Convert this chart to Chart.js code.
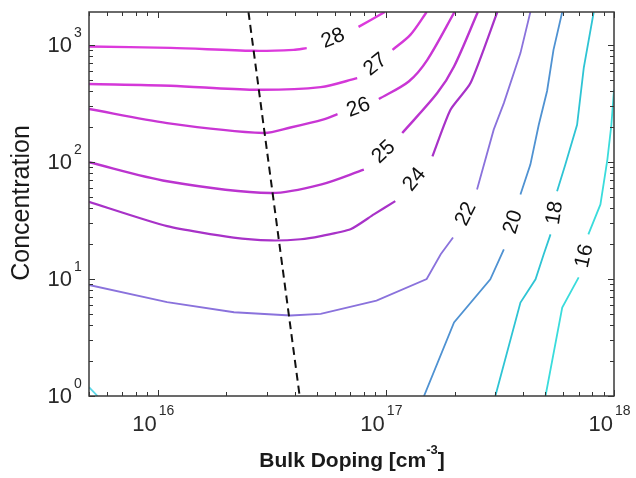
<!DOCTYPE html>
<html>
<head>
<meta charset="utf-8">
<script src="https://cdn.jsdelivr.net/npm/chart.js@4.4.0/dist/chart.umd.min.js"></script>
<style>
    body { margin: 0; background: #fff; }
</style>
</head>
<body>
<canvas id="myChart" width="636" height="478"></canvas>
<script>
// axis ranges and tick labels
const xMin = 5e15, xMax = 1e18;
const yMin = 1, yMax = 1900;
const xMajor = [1e16, 1e17, 1e18];
const xExp = ['16', '17', '18'];
const yMajor = [1, 10, 100, 1000];
const yExp = ['0', '1', '2', '3'];

// contour lines as [doping, concentration], "a" before the label gap, "b" after it
const c28a = [[5e15, 963], [1.14e16, 939], [2.63e16, 886], [3.94e16, 903], [4.5e16, 934]];
const c28b = [[7.59e16, 1418], [9.9e16, 1900]];
const c27a = [[5e15, 461], [1.14e16, 446], [2.63e16, 412], [5.18e16, 434], [7.49e16, 518]];
const c27b = [[1.07e17, 903], [1.28e17, 1212], [1.51e17, 1900]];
const c26a = [[5e15, 282], [1.1e16, 214], [2.91e16, 176], [3.82e16, 196], [5.34e16, 230], [6.14e16, 255]];
const c26b = [[9.32e16, 343], [1.26e17, 485], [1.52e17, 742], [2.0e17, 1900]];
const c25a = [[5e15, 99], [1.1e16, 68.2], [3.13e16, 54.1], [5.18e16, 63.9], [8.01e16, 85.8]];
const c25b = [[1.18e17, 176], [1.68e17, 386], [1.99e17, 651], [2.53e17, 1900]];
const c24a = [[5e15, 45.5], [1.1e16, 28.2], [2.15e16, 22.5], [3.13e16, 21.3], [4.23e16, 21.8],
              [5.18e16, 23.2], [7.0e16, 26.5], [8.86e16, 35.5], [1.1e17, 46.1]];
const c24b = [[1.6e17, 111], [1.92e17, 278], [2.35e17, 470], [3.08e17, 1900]];
const c22a = [[5e15, 8.87], [1.1e16, 6.32], [2.16e16, 5.19], [3.82e16, 4.87], [5.18e16, 5.02],
              [9.1e16, 6.53], [1.51e17, 9.98], [1.74e17, 16.2], [1.97e17, 22.6]];
const c22b = [[2.51e17, 58], [2.97e17, 188], [3.29e17, 317], [3.89e17, 847], [4.3e17, 1900]];
const c20a = [[1.47e17, 1], [1.99e17, 4.24], [2.87e17, 9.92], [3.29e17, 17.9]];
const c20b = [[3.89e17, 52.6], [4.3e17, 94.6], [4.68e17, 207], [5.09e17, 402], [5.43e17, 903], [5.93e17, 1900]];
const c18a = [[3.02e17, 1], [3.89e17, 6.28], [4.53e17, 9.92], [4.92e17, 16.2], [5.27e17, 24]];
const c18b = [[5.63e17, 56.1], [6.12e17, 94.6], [6.89e17, 207], [7.37e17, 634], [8.15e17, 1900]];
const c16a = [[5.01e17, 1], [5.93e17, 5.69], [7.0e17, 10.3]];
const c16b = [[7.72e17, 24], [8.72e17, 43.2], [9.35e17, 104], [9.74e17, 207], [1e18, 412]];
const cornerBit = [[5e15, 1.19], [5.45e15, 1]];

// dashed optimum line
const dashX = [2.5e16, 4.19e16];
const dashY = [1900, 1];

const contours = [
    { label: '28', parts: [c28a, c28b], color: '#dc3adc', width: 2.4, tension: 0.3 },
    { label: '27', parts: [c27a, c27b], color: '#d438d8', width: 2.4, tension: 0.3 },
    { label: '26', parts: [c26a, c26b], color: '#c936d4', width: 2.4, tension: 0.3 },
    { label: '25', parts: [c25a, c25b], color: '#bb34cf', width: 2.4, tension: 0.3 },
    { label: '24', parts: [c24a, c24b], color: '#a832c8', width: 2.2, tension: 0.2 },
    { label: '22', parts: [c22a, c22b], color: '#8a72dc', width: 1.8, tension: 0 },
    { label: '20', parts: [c20a, c20b], color: '#4f92d2', width: 1.8, tension: 0 },
    { label: '18', parts: [c18a, c18b], color: '#2ec4d4', width: 1.8, tension: 0 },
    { label: '16', parts: [c16a, c16b], color: '#3adcdc', width: 1.8, tension: 0 },
    { label: '', parts: [cornerBit], color: '#5cd8e8', width: 1.8, tension: 0 }
];

const toPoints = arr => arr.map(p => ({ x: p[0], y: p[1] }));

const datasets = [{
    data: dashX.map((v, i) => ({ x: v, y: dashY[i] })),
    borderColor: '#111',
    borderWidth: 2,
    borderDash: [8, 5],
    pointRadius: 0
}];

contours.forEach(c => {
    c.parts.forEach(part => {
        datasets.push({
            data: toPoints(part),
            borderColor: c.color,
            borderWidth: c.width,
            tension: c.tension,
            pointRadius: 0
        });
    });
});

function logTicks(min, max) {
    const out = [];
    for (let e = Math.floor(Math.log10(min)); e <= Math.ceil(Math.log10(max)); e++) {
        for (let m = 1; m < 10; m++) {
            const v = m * Math.pow(10, e);
            if (v >= min * 0.999 && v <= max * 1.001) out.push({ v, major: m === 1 });
        }
    }
    return out;
}

const FONT = 'Liberation Sans, Arial, sans-serif';

const overlay = {
    id: 'overlay',
    afterDatasetsDraw(chart) {
        const { ctx, chartArea: a, scales: { x, y } } = chart;
        ctx.save();

        // inward tick marks on all four sides
        ctx.strokeStyle = '#333';
        ctx.lineWidth = 1;
        logTicks(xMin, xMax).forEach(t => {
            const px = Math.round(x.getPixelForValue(t.v)) + 0.5;
            const len = t.major ? 6 : 4;
            ctx.beginPath();
            ctx.moveTo(px, a.bottom); ctx.lineTo(px, a.bottom - len);
            ctx.moveTo(px, a.top); ctx.lineTo(px, a.top + len);
            ctx.stroke();
        });
        logTicks(yMin, yMax).forEach(t => {
            const py = Math.round(y.getPixelForValue(t.v)) + 0.5;
            const len = t.major ? 6 : 4;
            ctx.beginPath();
            ctx.moveTo(a.left, py); ctx.lineTo(a.left + len, py);
            ctx.moveTo(a.right, py); ctx.lineTo(a.right - len, py);
            ctx.stroke();
        });

        // frame
        ctx.strokeStyle = '#3a3a3a';
        ctx.lineWidth = 1.5;
        ctx.strokeRect(a.left, a.top, a.right - a.left, a.bottom - a.top);

        // tick labels 10^n
        ctx.fillStyle = '#2a2a2a';
        ctx.textBaseline = 'middle';
        xMajor.forEach((v, i) => {
            const px = x.getPixelForValue(v);
            ctx.font = '22px ' + FONT;
            ctx.textAlign = 'right';
            ctx.fillText('10', px - 1, a.bottom + 29);
            ctx.font = '14px ' + FONT;
            ctx.textAlign = 'left';
            ctx.fillText(xExp[i], px + 1, a.bottom + 15);
        });
        yMajor.forEach((v, i) => {
            const py = y.getPixelForValue(v);
            ctx.font = '22px ' + FONT;
            ctx.textAlign = 'right';
            ctx.fillText('10', a.left - 17, py + 1);
            ctx.font = '14px ' + FONT;
            ctx.textAlign = 'left';
            ctx.fillText(yExp[i], a.left - 15, py - 12);
        });

        // axis titles
        ctx.fillStyle = '#1a1a1a';
        ctx.font = 'bold 21px ' + FONT;
        const main = 'Bulk Doping [cm';
        const wMain = ctx.measureText(main).width;
        const wClose = ctx.measureText(']').width;
        ctx.font = 'bold 13px ' + FONT;
        const wSup = ctx.measureText('-3').width;
        let tx = 352 - (wMain + wSup + wClose) / 2;
        ctx.textAlign = 'left';
        ctx.font = 'bold 21px ' + FONT;
        ctx.fillText(main, tx, 461);
        ctx.font = 'bold 13px ' + FONT;
        ctx.fillText('-3', tx + wMain, 450);
        ctx.font = 'bold 21px ' + FONT;
        ctx.fillText(']', tx + wMain + wSup, 461);

        ctx.save();
        ctx.translate(22, 203);
        ctx.rotate(-Math.PI / 2);
        ctx.textAlign = 'center';
        ctx.font = '25px ' + FONT;
        ctx.fillText('Concentration', 0, 0);
        ctx.restore();

        // inline contour labels, placed in the gap between the two parts
        ctx.fillStyle = '#111';
        ctx.font = '21px ' + FONT;
        ctx.textAlign = 'center';
        contours.forEach(c => {
            if (!c.label) return;
            const p = c.parts[0][c.parts[0].length - 1];
            const q = c.parts[1][0];
            const x1 = x.getPixelForValue(p[0]), y1 = y.getPixelForValue(p[1]);
            const x2 = x.getPixelForValue(q[0]), y2 = y.getPixelForValue(q[1]);
            ctx.save();
            ctx.translate((x1 + x2) / 2, (y1 + y2) / 2);
            ctx.rotate(Math.atan2(y2 - y1, x2 - x1));
            ctx.fillText(c.label, 0, 1);
            ctx.restore();
        });

        ctx.restore();
    }
};

const config = {
    type: 'line',
    data: { datasets },
    options: {
        responsive: false,
        animation: false,
        devicePixelRatio: 1,
        layout: { padding: { left: 89, top: 12, right: 22, bottom: 82 } },
        scales: {
            x: { type: 'logarithmic', display: false, min: xMin, max: xMax },
            y: { type: 'logarithmic', display: false, min: yMin, max: yMax }
        },
        plugins: {
            legend: { display: false },
            tooltip: { enabled: false }
        }
    },
    plugins: [overlay]
};

const myChart = new Chart(document.getElementById('myChart'), config);
</script>
</body>
</html>
